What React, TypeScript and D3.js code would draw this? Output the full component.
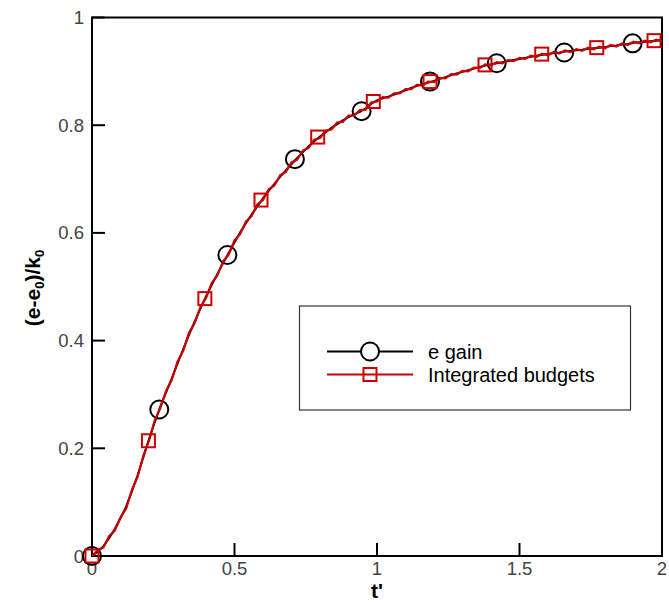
import React from "react";
import * as d3 from "d3";

// Time samples (t') shared by the two continuous curves
const curveT: number[] = [
  0.0, 0.02, 0.04, 0.06, 0.08, 0.1, 0.12, 0.14, 0.16, 0.18,
  0.2, 0.22, 0.24, 0.26, 0.28, 0.3, 0.32, 0.34, 0.36, 0.38,
  0.4, 0.42, 0.44, 0.46, 0.48, 0.5, 0.52, 0.54, 0.56, 0.58,
  0.6, 0.62, 0.64, 0.66, 0.68, 0.7, 0.72, 0.74, 0.76, 0.78,
  0.8, 0.82, 0.84, 0.86, 0.88, 0.9, 0.92, 0.94, 0.96, 0.98,
  1.0, 1.02, 1.04, 1.06, 1.08, 1.1, 1.12, 1.14, 1.16, 1.18,
  1.2, 1.22, 1.24, 1.26, 1.28, 1.3, 1.32, 1.34, 1.36, 1.38,
  1.4, 1.42, 1.44, 1.46, 1.48, 1.5, 1.52, 1.54, 1.56, 1.58,
  1.6, 1.62, 1.64, 1.66, 1.68, 1.7, 1.72, 1.74, 1.76, 1.78,
  1.8, 1.82, 1.84, 1.86, 1.88, 1.9, 1.92, 1.94, 1.96, 1.98,
  2.0,
];

// Integrated budgets (noisy)
const budgetV: number[] = [
  0.0, 0.011, 0.016, 0.037, 0.047, 0.072, 0.088, 0.123, 0.147, 0.186,
  0.214, 0.252, 0.275, 0.307, 0.327, 0.361, 0.381, 0.414, 0.432, 0.462,
  0.479, 0.507, 0.521, 0.547, 0.56, 0.586, 0.598, 0.621, 0.631, 0.653,
  0.661, 0.681, 0.688, 0.707, 0.713, 0.731, 0.736, 0.753, 0.758, 0.773,
  0.776, 0.79, 0.792, 0.805, 0.806, 0.818, 0.818, 0.828, 0.829, 0.842,
  0.844, 0.852, 0.851, 0.859, 0.859, 0.867, 0.867, 0.875, 0.874, 0.881,
  0.88, 0.888, 0.887, 0.895, 0.894, 0.901, 0.9, 0.907, 0.906, 0.913,
  0.911, 0.917, 0.915, 0.921, 0.919, 0.925, 0.923, 0.929, 0.927, 0.933,
  0.93, 0.936, 0.933, 0.939, 0.936, 0.941, 0.938, 0.944, 0.941, 0.946,
  0.943, 0.949, 0.946, 0.952, 0.949, 0.955, 0.952, 0.957, 0.954, 0.959,
  0.956,
];

// e gain (smooth)
const gainV: number[] = [
  0.0, 0.008, 0.018, 0.033, 0.05, 0.07, 0.092, 0.12, 0.15, 0.183,
  0.217, 0.248, 0.278, 0.304, 0.33, 0.357, 0.384, 0.41, 0.435, 0.459,
  0.482, 0.503, 0.524, 0.544, 0.563, 0.582, 0.601, 0.618, 0.634, 0.649,
  0.664, 0.678, 0.691, 0.704, 0.716, 0.728, 0.739, 0.75, 0.761, 0.77,
  0.779, 0.787, 0.795, 0.802, 0.809, 0.815, 0.82, 0.825, 0.831, 0.84,
  0.846, 0.85, 0.853, 0.857, 0.861, 0.865, 0.869, 0.873, 0.876, 0.879,
  0.882, 0.886, 0.889, 0.893, 0.896, 0.899, 0.902, 0.905, 0.908, 0.911,
  0.913, 0.915, 0.917, 0.919, 0.921, 0.923, 0.925, 0.927, 0.929, 0.931,
  0.932, 0.934, 0.935, 0.937, 0.938, 0.939, 0.94, 0.942, 0.943, 0.944,
  0.945, 0.947, 0.948, 0.95, 0.951, 0.953, 0.954, 0.955, 0.956, 0.957,
  0.958,
];

// Marker samples for the integrated budgets
const budgetMarkT: number[] = [0, 0.198, 0.396, 0.593, 0.792, 0.987, 1.186, 1.379, 1.578, 1.771, 1.972];
const budgetMarkV: number[] = [0, 0.214, 0.478, 0.661, 0.778, 0.844, 0.881, 0.912, 0.932, 0.944, 0.957];

// Marker samples for e gain
const gainMarkT: number[] = [0, 0.236, 0.475, 0.712, 0.946, 1.186, 1.42, 1.657, 1.897];
const gainMarkV: number[] = [0, 0.272, 0.559, 0.737, 0.826, 0.881, 0.915, 0.935, 0.952];

const xTicks: number[] = [0, 0.5, 1, 1.5, 2];
const yTicks: number[] = [0, 0.2, 0.4, 0.6, 0.8, 1];
const xTickLabels: string[] = ["0", "0.5", "1", "1.5", "2"];
const yTickLabels: string[] = ["0", "0.2", "0.4", "0.6", "0.8", "1"];

const W = 669;
const H = 604;
const plot = { left: 92, right: 662, top: 17.5, bottom: 556 };
const RED = "#cc0000";
const FONT = "'Liberation Sans', Arial, sans-serif";

export default function App() {
  const x = d3.scaleLinear().domain([0, 2]).range([plot.left, plot.right]);
  const y = d3.scaleLinear().domain([0, 1]).range([plot.bottom, plot.top]);

  const budgetPts: [number, number][] = curveT.map((t, i) => [t, budgetV[i]]);
  const gainPts: [number, number][] = curveT.map((t, i) => [t, gainV[i]]);

  const line = d3
    .line<[number, number]>()
    .x((d) => x(d[0]))
    .y((d) => y(d[1]));

  const sq = 13;
  const legendY1 = 351.5;
  const legendY2 = 374.5;

  return (
    <svg
      width={W}
      height={H}
      viewBox={`0 0 ${W} ${H}`}
      style={{ position: "absolute", left: 0, top: 0, background: "#fff" }}
      fontFamily={FONT}
    >
      <rect x={0} y={0} width={W} height={H} fill="#fff" />

      {/* inward ticks on left and bottom axes */}
      {yTicks.map((t) => (
        <line key={`yt${t}`} x1={plot.left} x2={plot.left + 13} y1={y(t)} y2={y(t)} stroke="#000" strokeWidth={2} />
      ))}
      {xTicks.map((t) => (
        <line key={`xt${t}`} x1={x(t)} x2={x(t)} y1={plot.bottom} y2={plot.bottom - 13} stroke="#000" strokeWidth={2} />
      ))}

      {/* frame */}
      <rect
        x={plot.left}
        y={plot.top}
        width={plot.right - plot.left}
        height={plot.bottom - plot.top}
        fill="none"
        stroke="#000"
        strokeWidth={2}
      />

      {/* tick labels */}
      {yTicks.map((t, i) => (
        <text key={`yl${t}`} x={84} y={y(t) + 6.5} textAnchor="end" fontSize={18.5} fill="#444">
          {yTickLabels[i]}
        </text>
      ))}
      {xTicks.map((t, i) => (
        <text key={`xl${t}`} x={x(t)} y={575} textAnchor="middle" fontSize={18.5} fill="#444">
          {xTickLabels[i]}
        </text>
      ))}

      {/* axis titles */}
      <text x={x(1)} y={598} textAnchor="middle" fontSize={21} fontWeight="bold" fill="#000">
        t'
      </text>
      <text
        transform={`translate(40, 288) rotate(-90)`}
        textAnchor="middle"
        fontSize={21}
        fontWeight="bold"
        fill="#000"
      >
        (e-e<tspan fontSize={13} dy={4}>0</tspan>
        <tspan dy={-4}>)/k</tspan>
        <tspan fontSize={13} dy={4}>0</tspan>
      </text>

      {/* e gain */}
      <path d={line(gainPts) ?? ""} fill="none" stroke="#000" strokeWidth={2} />
      {gainMarkT.map((t, i) => (
        <circle key={`c${i}`} cx={x(t)} cy={y(gainMarkV[i])} r={9} fill="none" stroke="#000" strokeWidth={2} />
      ))}

      {/* integrated budgets */}
      <path d={line(budgetPts) ?? ""} fill="none" stroke={RED} strokeWidth={2.2} strokeLinejoin="miter" />
      {budgetMarkT.map((t, i) => (
        <rect
          key={`s${i}`}
          x={x(t) - sq / 2}
          y={y(budgetMarkV[i]) - sq / 2}
          width={sq}
          height={sq}
          fill="none"
          stroke={RED}
          strokeWidth={2}
        />
      ))}

      {/* legend */}
      <rect x={299.5} y={306} width={331} height={104} fill="#fff" stroke="#333" strokeWidth={1.2} />
      <line x1={327} x2={413} y1={legendY1} y2={legendY1} stroke="#000" strokeWidth={2} />
      <circle cx={370} cy={legendY1} r={9} fill="#fff" stroke="#000" strokeWidth={2} />
      <line x1={327} x2={413} y1={legendY2} y2={legendY2} stroke={RED} strokeWidth={2} />
      <rect x={370 - sq / 2} y={legendY2 - sq / 2} width={sq} height={sq} fill="none" stroke={RED} strokeWidth={2} />
      <text x={428} y={legendY1 + 7} fontSize={20} fill="#000">
        e gain
      </text>
      <text x={428} y={legendY2 + 7} fontSize={20} fill="#000">
        Integrated budgets
      </text>
    </svg>
  );
}
